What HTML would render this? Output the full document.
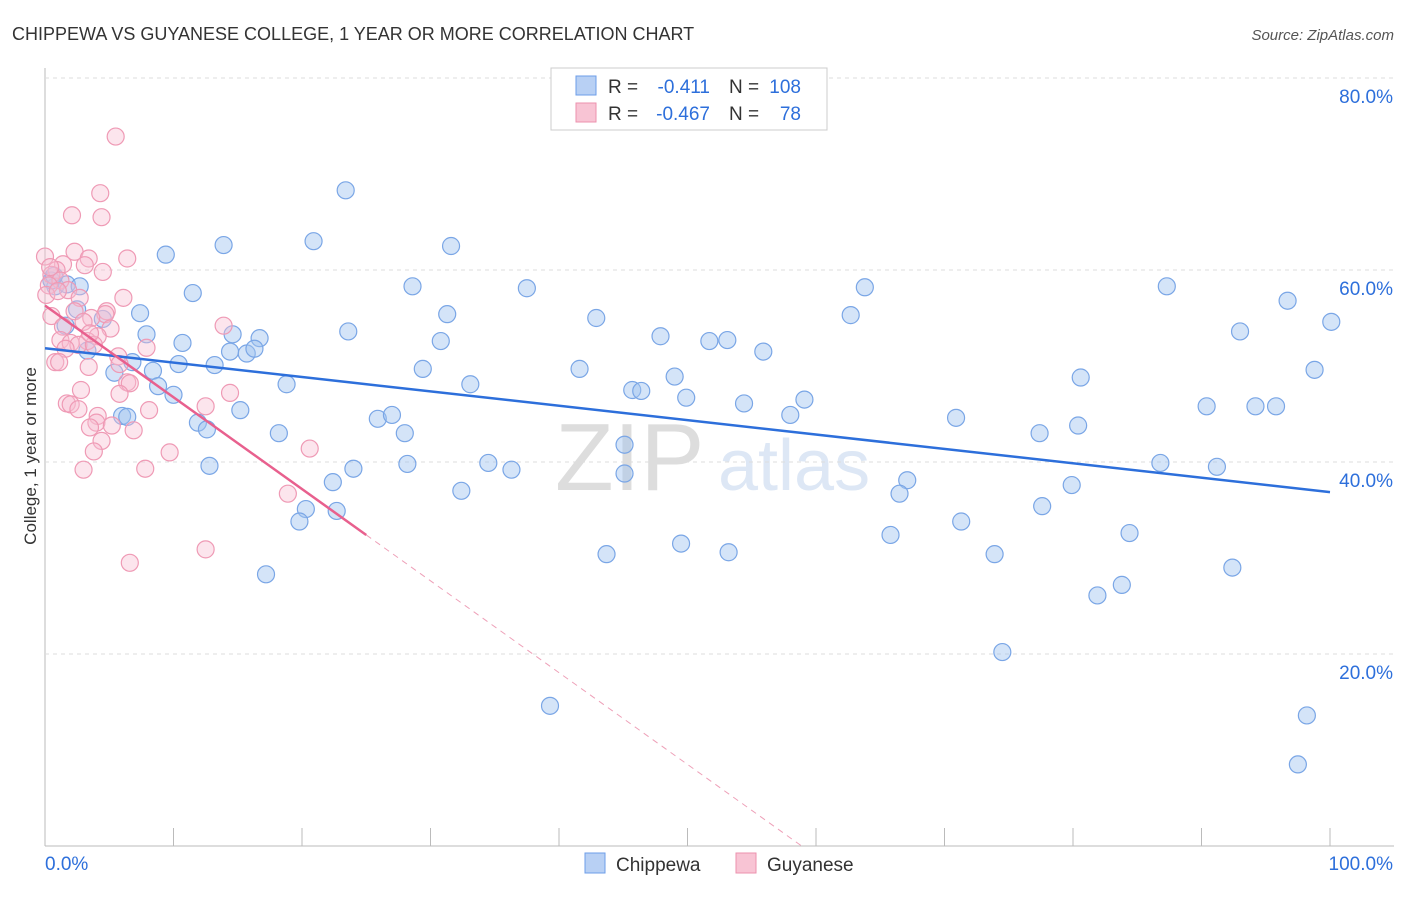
<!DOCTYPE html>
<html><head><meta charset="utf-8"><style>
body{margin:0;background:#fff;font-family:"Liberation Sans",sans-serif;}
svg text{font-family:"Liberation Sans",sans-serif;}
</style></head><body>
<svg id="chart" width="1406" height="892">
<text x="12" y="40" font-size="18" fill="#333">CHIPPEWA VS GUYANESE COLLEGE, 1 YEAR OR MORE CORRELATION CHART</text>
<text x="1394" y="40" font-size="15" fill="#555" font-style="italic" text-anchor="end">Source: ZipAtlas.com</text>
<text x="36" y="456" font-size="17" fill="#333" text-anchor="middle" transform="rotate(-90 36 456)">College, 1 year or more</text>
<text x="555" y="490" font-size="96" fill="#ddd" font-family="Liberation Serif">ZIP</text>
<text x="718" y="490" font-size="72" fill="#dde7f5">atlas</text>
<g id="grid"></g><g id="pts"></g><g id="lines"></g>
<g>
<rect x="551" y="68" width="276" height="62" fill="#fff" stroke="#ccc"/>
<rect x="576" y="76" width="20" height="19" fill="#b8d0f4" stroke="#6d9ee8"/>
<rect x="576" y="103" width="20" height="19" fill="#f8c4d4" stroke="#ec92ae"/>
<text x="608" y="93" font-size="19" fill="#333">R =</text>
<text x="710" y="93" font-size="19" fill="#2d6fdb" text-anchor="end">-0.411</text>
<text x="729" y="93" font-size="19" fill="#333">N =</text>
<text x="801" y="93" font-size="19" fill="#2d6fdb" text-anchor="end">108</text>
<text x="608" y="120" font-size="19" fill="#333">R =</text>
<text x="710" y="120" font-size="19" fill="#2d6fdb" text-anchor="end">-0.467</text>
<text x="729" y="120" font-size="19" fill="#333">N =</text>
<text x="801" y="120" font-size="19" fill="#2d6fdb" text-anchor="end">78</text>
</g>
<g>
<rect x="585" y="853" width="20" height="20" fill="#b8d0f4" stroke="#6d9ee8"/>
<text x="616" y="871" font-size="19" fill="#333">Chippewa</text>
<rect x="736" y="853" width="20" height="20" fill="#f8c4d4" stroke="#ec92ae"/>
<text x="767" y="871" font-size="19" fill="#333">Guyanese</text>
</g>
</svg>
<script>
const yTicks=[20,40,60,80];
const xTickLabels=["0.0%","100.0%"];
const blueX=[23.4,13.9,20.9,31.6,9.4,28.6,37.5,11.5,31.3,7.4,63.8,87.3,96.7,100.1,42.9,62.7,23.6,7.9,10.7,14.6,16.7,30.8,47.9,51.7,53.1,55.9,93,13.2,14.4,15.7,16.3,10.4,6.8,5.4,8.4,8.8,10,18.8,29.4,41.6,33.1,45.7,46.4,49,49.9,54.4,59.1,58,80.6,98.8,90.4,94.2,95.8,15.2,25.9,27,28,18.2,11.9,12.6,70.9,77.4,80.4,6,6.4,12.8,24,28.2,34.5,36.3,45.1,45.1,86.8,91.2,22.4,32.4,67.1,66.5,79.9,77.6,20.3,19.8,22.7,71.3,65.8,84.4,43.7,49.5,53.2,73.9,92.4,17.2,83.8,81.9,74.5,39.3,98.2,97.5,0.8,0.5,1.7,2.7,4.5,3.3,1.6,2.5,0.7];
const blueY=[68.3,62.6,63,62.5,61.6,58.3,58.1,57.6,55.4,55.5,58.2,58.3,56.8,54.6,55,55.3,53.6,53.3,52.4,53.3,52.9,52.6,53.1,52.6,52.7,51.5,53.6,50.1,51.5,51.3,51.8,50.2,50.4,49.3,49.5,47.9,47,48.1,49.7,49.7,48.1,47.5,47.4,48.9,46.7,46.1,46.5,44.9,48.8,49.6,45.8,45.8,45.8,45.4,44.5,44.9,43,43,44.1,43.4,44.6,43,43.8,44.8,44.7,39.6,39.3,39.8,39.9,39.2,41.8,38.8,39.9,39.5,37.9,37,38.1,36.7,37.6,35.4,35.1,33.8,34.9,33.8,32.4,32.6,30.4,31.5,30.6,30.4,29,28.3,27.2,26.1,20.2,14.6,13.6,8.5,58.3,58.9,58.5,58.3,54.9,51.6,54.2,55.9,59.4];
const pinkX=[5.5,4.3,2.1,4.4,2.3,0,3.4,1.4,3.1,6.4,4.5,0.9,0.5,1.2,0.3,1.8,2.7,0.1,6.1,4.8,2.3,4.7,0.5,3.6,5.1,13.9,1.4,4.1,1.2,3.3,2,2.6,3.8,1.6,7.9,5.7,0.8,1.1,5.8,3.4,6.4,6.6,2.8,5.8,14.4,1.7,2,2.6,8.1,12.5,4.1,4,3.5,5.2,6.9,4.4,3.8,9.7,20.6,7.8,3,18.9,12.5,6.6,1,0.4,3,3.5];
const pinkY=[73.9,68,65.7,65.5,61.9,61.4,61.2,60.6,60.5,61.2,59.8,60,59.5,58.9,58.4,57.9,57.1,57.4,57.1,55.7,55.7,55.4,55.2,55,53.9,54.2,54.1,53.1,52.7,52.6,52.4,52.2,52.2,51.8,51.9,51,50.4,50.4,50.2,49.9,48.3,48.2,47.5,47.1,47.2,46.1,46,45.5,45.4,45.8,44.8,44.1,43.6,43.8,43.3,42.2,41.1,41,41.4,39.3,39.2,36.7,30.9,29.5,57.8,60.3,54.6,53.4];
const x0=45,x1=1330,yb=846,ppu=9.6;
const sx=v=>x0+(x1-x0)*v/100, sy=v=>yb-v*ppu;
const NS="http://www.w3.org/2000/svg";
function mk(t,a,p){const e=document.createElementNS(NS,t);for(const k in a)e.setAttribute(k,a[k]);p.appendChild(e);return e;}
const g=document.getElementById('grid');
let ax=mk('line',{x1:x0,y1:68,x2:x0,y2:yb,stroke:'#bbb'},g);


let bx=mk('line',{x1:x0,y1:yb,x2:1394,y2:yb,stroke:'#bbb'},g);


for(let i=0;i<=10;i++){let t=mk('line',{x1:sx(i*10),y1:yb,x2:sx(i*10),y2:yb-18,stroke:'#bbb'},g);

}
yTicks.forEach(v=>{let l=mk('line',{x1:x0,y1:sy(v),x2:1394,y2:sy(v),stroke:'#ddd','stroke-dasharray':'4 4'},g);


let t=mk('text',{x:1393,y:sy(v)+25,'font-size':19,fill:'#2d6fdb','text-anchor':'end'},g);t.textContent=v.toFixed(1)+'%';

});
let tl=mk('text',{x:45,y:870,'font-size':19,fill:'#2d6fdb'},g);tl.textContent=xTickLabels[0];


let tr=mk('text',{x:1393,y:870,'font-size':19,fill:'#2d6fdb','text-anchor':'end'},g);tr.textContent=xTickLabels[1];


const p=document.getElementById('pts');
blueX.forEach((v,i)=>{let c=mk('circle',{cx:sx(v),cy:sy(blueY[i]),r:8.5,fill:'rgba(160,195,240,0.45)',stroke:'#7aa6e6','stroke-width':1.2},p);

});
pinkX.forEach((v,i)=>{let c=mk('circle',{cx:sx(v),cy:sy(pinkY[i]),r:8.5,fill:'rgba(248,190,210,0.4)',stroke:'#ef9ab5','stroke-width':1.2},p);

});
function fit(X,Y){const n=X.length;let mx=0,my=0;X.forEach((x,i)=>{mx+=x;my+=Y[i]});mx/=n;my/=n;let a=0,b=0;X.forEach((x,i)=>{a+=(x-mx)*(Y[i]-my);b+=(x-mx)**2});const s=a/b;return [s,my-s*mx];}
const L=document.getElementById('lines');
const [bs,bi]=fit(blueX,blueY);
let bl=mk('line',{x1:sx(0),y1:sy(bi),x2:sx(100),y2:sy(bi+bs*100),stroke:'#2d6fdb','stroke-width':2.5},L);


const [ps,pi]=fit(pinkX,pinkY);
let pl=mk('line',{x1:sx(0),y1:sy(pi),x2:sx(25),y2:sy(pi+ps*25),stroke:'#e8608e','stroke-width':2.5},L);


const xe=Math.min(100,-pi/ps);
let pd=mk('line',{x1:sx(25),y1:sy(pi+ps*25),x2:sx(xe),y2:sy(pi+ps*xe),stroke:'#eea0b8','stroke-width':1,'stroke-dasharray':'6 5'},L);


</script>
</body></html>
